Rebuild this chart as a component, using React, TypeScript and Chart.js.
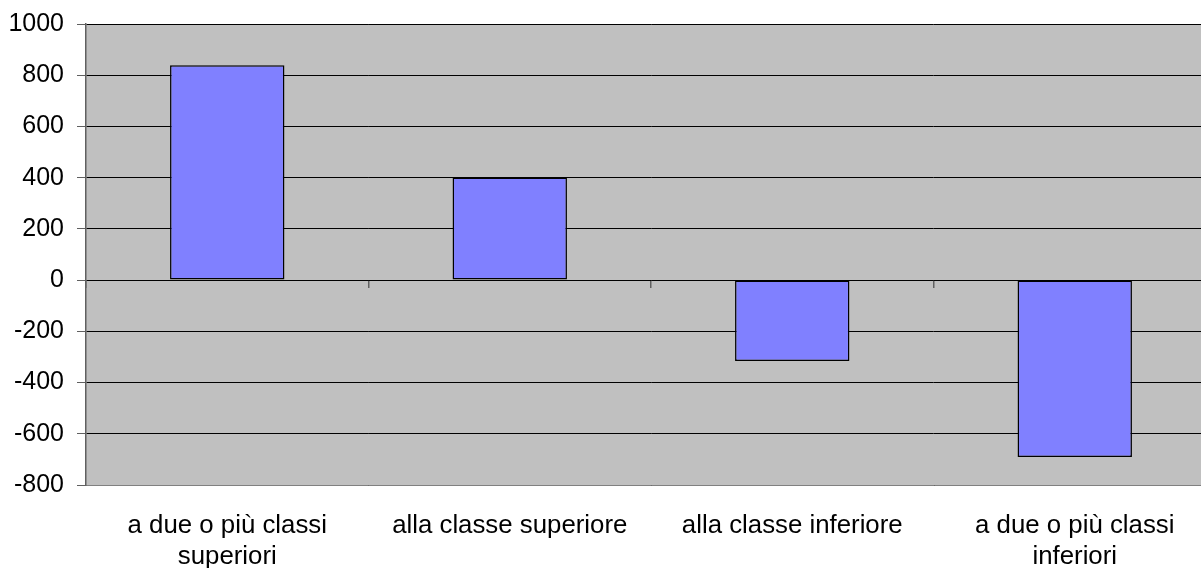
import React, { useEffect, useRef } from "react";
import { Chart, registerables } from "chart.js";

Chart.register(...registerables);

const categories: string[][] = [
  ["a due o più classi", "superiori"],
  ["alla classe superiore"],
  ["alla classe inferiore"],
  ["a due o più classi", "inferiori"],
];
const values: number[] = [839, 401, -316, -691];
const yMin = -800;
const yMax = 1000;
const yStep = 200;

const plotBg = {
  id: "plotBg",
  beforeDraw(chart: any) {
    const { ctx, chartArea } = chart;
    ctx.save();
    ctx.fillStyle = "#C0C0C0";
    ctx.fillRect(chartArea.left, chartArea.top, chartArea.right - chartArea.left, chartArea.bottom - chartArea.top);
    ctx.restore();
  },
};

export default function App() {
  const ref = useRef<HTMLCanvasElement | null>(null);
  useEffect(() => {
    if (!ref.current) return;
    const chart = new Chart(ref.current, {
      type: "bar",
      data: {
        labels: categories as any,
        datasets: [
          {
            data: values,
            backgroundColor: "#8080FF",
            borderColor: "#000000",
            borderWidth: 1.5,
            borderSkipped: false,
            categoryPercentage: 1,
            barPercentage: 0.405,
          },
        ],
      },
      options: {
        animation: false,
        responsive: true,
        maintainAspectRatio: false,
        layout: { padding: { top: 0, right: 0, left: 0, bottom: 0 } },
        plugins: { legend: { display: false }, tooltip: { enabled: false } },
        scales: {
          x: {
            type: "category",
            offset: true,
            grid: { display: false },
            border: { display: true, color: "#808080", width: 1 },
            ticks: {
              color: "#000",
              font: { family: "'Liberation Sans', Arial, sans-serif", size: 25.8, lineHeight: 1.2 },
              padding: 17,
              maxRotation: 0,
              autoSkip: false,
            },
            afterFit(scale: any) {
              scale.height = 83;
            },
          },
          x2: {
            type: "category",
            axis: "x",
            position: { y: 0 } as any,
            offset: true,
            grid: { offset: true, drawOnChartArea: false, drawTicks: true, tickLength: 8, color: "#606060", lineWidth: 1.5 },
            border: { display: false },
            ticks: { display: false },
          },
          y: {
            min: yMin,
            max: yMax,
            ticks: {
              stepSize: yStep,
              color: "#000",
              padding: 13,
              font: { family: "'Liberation Sans', Arial, sans-serif", size: 25, lineHeight: 0.88 },
              callback: (v: any) => String(v),
            },
            grid: { color: "#000000", lineWidth: 1, tickLength: 9, tickColor: "#606060" },
            border: { display: true, color: "#606060", width: 1.5 },
            afterFit(scale: any) {
              scale.width = 86;
            },
          },
        },
      } as any,
      plugins: [plotBg],
    });
    return () => chart.destroy();
  }, []);
  return (
    <div style={{ position: "absolute", left: 0, top: 0, width: 1201, height: 568, overflow: "hidden", background: "#fff" }}>
      <div style={{ position: "relative", width: 1216, height: 568 }}>
        <canvas ref={ref} />
      </div>
    </div>
  );
}
